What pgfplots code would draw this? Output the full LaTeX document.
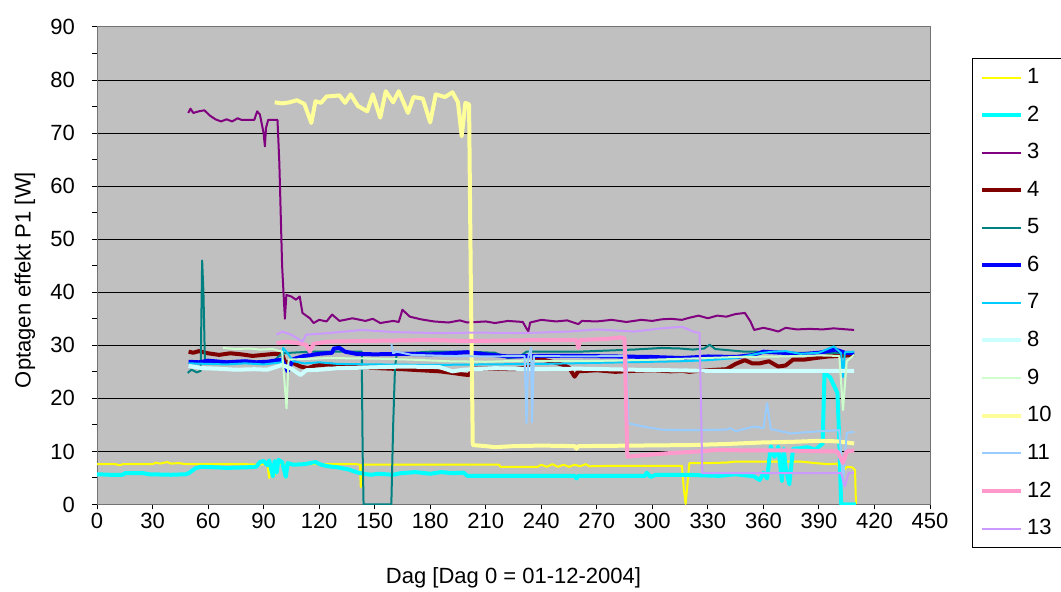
\documentclass[border=0pt]{standalone}
\usepackage{fontspec}
\setmainfont{Liberation Sans}
\usepackage{pgfplots}
\pgfplotsset{compat=1.18}
\definecolor{c1}{RGB}{255,255,0}
\definecolor{c2}{RGB}{0,255,255}
\definecolor{c3}{RGB}{128,0,128}
\definecolor{c4}{RGB}{128,0,0}
\definecolor{c5}{RGB}{0,128,128}
\definecolor{c6}{RGB}{0,0,255}
\definecolor{c7}{RGB}{0,204,255}
\definecolor{c8}{RGB}{204,255,255}
\definecolor{c9}{RGB}{204,255,204}
\definecolor{c10}{RGB}{255,255,153}
\definecolor{c11}{RGB}{153,204,255}
\definecolor{c12}{RGB}{255,153,204}
\definecolor{c13}{RGB}{204,153,255}
\definecolor{bggray}{RGB}{192,192,192}
\begin{document}
\begin{tikzpicture}[font=\fontsize{11}{13}\selectfont]
\path[use as bounding box] (0,0) rectangle (530.5pt,296pt);
\begin{axis}[
 at={(48.5pt,43.75pt)}, anchor=south west,
 scale only axis, width=416.5pt, height=238.75pt,
 xmin=0, xmax=450, ymin=0, ymax=90,
 xtick={0,30,...,450}, ytick={0,10,...,90}, minor y tick num=1,
 tick pos=left, tick align=outside,
 major tick length=2.5pt, minor tick length=2.5pt,
 tick style={black, line width=0.5pt},
 ymajorgrids, grid style={black, line width=0.5pt},
 axis background/.style={fill=bggray},
 axis line style={draw=black!55, line width=0.5pt},
 /pgf/number format/assume math mode=true,
 xticklabel style={yshift=1.5pt}, yticklabel style={xshift=-5pt},
 xlabel={Dag [Dag 0 = 01-12-2004]}, ylabel={Optagen effekt P1 [W]},
 xlabel style={at={(axis description cs:0.5,-0.154)}, anchor=center},
 ylabel style={at={(axis description cs:-0.0864,0.47)}, anchor=center},
 legend style={at={(axis description cs:1.0504,0.935)}, anchor=north west,
   draw=black, fill=white, line width=0.5pt, row sep=5.65pt,
   inner xsep=4pt, inner ysep=3pt, font=\fontsize{11}{13}\selectfont},
 legend cell align=left,
 legend image code/.code={\draw[#1] (0pt,0pt) -- (19.3pt,0pt);},
 every axis plot/.append style={line join=round},
]
% 1
\addplot[c1, line width=1pt] coordinates {(0,7.6) (10,7.6) (12,7.4) (14,7.6) (30,7.6) (32,7.9) (34,7.7) (38,8.0) (40,7.7) (44,7.8) (48,7.6) (60,7.6) (70,7.6) (80,7.6) (88,7.5) (92,7.7) (93,5.0) (94,7.6) (96,5.6) (97,7.6) (101,7.7) (102,5.0) (103,7.7) (110,7.6) (125,7.6) (140,7.6) (142,7.5) (142.5,3.3) (143,7.5) (150,7.5) (170,7.5) (200,7.5) (217,7.5) (218,7.1) (238,7.1) (240,7.5) (243,7.1) (246,7.6) (249,7.1) (252,7.5) (255,7.1) (258,7.5) (261,7.2) (264,7.6) (266,7.2) (280,7.3) (300,7.3) (316,7.3) (317,3) (318,0.1) (319,4) (320,7.8) (330,7.8) (340,7.9) (345,8.1) (360,8.1) (375,8.1) (380,8.1) (388,7.8) (395,7.6) (400,7.7) (401,7.0) (403,6.2) (405,7.1) (408,7.0) (409.5,6.5) (410,0.1)};
\addlegendentry{1}
% 2
\addplot[c2, line width=2pt] coordinates {(0,5.7) (7,5.6) (14,5.6) (15,5.9) (25,5.9) (28,5.7) (40,5.6) (48,5.7) (50,6.0) (53,6.8) (56,7.1) (65,7.0) (70,6.9) (80,7.0) (86,7.1) (88,8.0) (90,8.2) (92,7.4) (93,8.3) (95,5.3) (96,8.2) (97,6.0) (98,8.4) (100,8.0) (102,5.2) (103,7.8) (106,7.5) (112,7.6) (118,8.0) (121,7.5) (125,7.2) (130,7.0) (136,6.6) (140,6.1) (144,5.8) (148,5.6) (152,5.8) (160,5.6) (164,5.9) (172,6.1) (180,5.8) (186,6.1) (192,5.9) (198,6.0) (200,5.4) (230,5.4) (258,5.4) (259,4.9) (260,5.4) (296,5.4) (297,6.0) (299,5.2) (302,5.6) (320,5.6) (326,5.5) (336,5.4) (345,5.7) (355,5.3) (358,4.6) (360,6.0) (362,4.9) (364,11.0) (366,9.0) (368,10.9) (370,4.4) (371,10.5) (372,7.0) (374,3.8) (376,10.5) (380,10.6) (384,10.8) (388,10.3) (392,11.5) (393,24.8) (396,24.0) (398,22.5) (400,21.0) (401,12) (402,0) (410,0)};
\addlegendentry{2}
% 3
\addplot[c3, line width=1pt] coordinates {(49.3,73.8) (50.5,74.6) (52,73.8) (55,74.1) (58,74.3) (61,73.3) (64,72.6) (67,72.2) (70,72.6) (73,72.2) (76,72.8) (78,72.5) (85,72.5) (86.5,74.1) (88,73.5) (90,70) (90.7,67.5) (91.3,71) (92.5,72.5) (97.5,72.5) (98.5,64.4) (100,45) (101.5,35) (102.3,39.5) (105,39.2) (107.5,38.6) (109.5,39.2) (111,36.1) (115,35.1) (117,34.2) (120,34.8) (124,34.5) (127,35.8) (131,34.6) (138,35.1) (145,34.6) (149,35) (153,34.2) (160,34.6) (163,34.4) (165,36.7) (169,35.4) (175,34.9) (182,34.5) (190,34.3) (196,34.7) (200,34.3) (210,34.5) (215,34.2) (222,34.6) (230,34.4) (232,33.2) (233,32.6) (234,34.3) (240,34.8) (248,34.5) (254,34.7) (260,34.0) (262,34.6) (270,34.5) (278,34.8) (286,34.4) (294,34.8) (300,34.6) (305,34.9) (310,35.0) (316,34.8) (320,35.2) (325,35.6) (330,35.1) (335,35.6) (340,35.4) (345,35.9) (350,36.1) (353,34.5) (355,32.9) (360,33.3) (364,33.0) (368,32.6) (372,33.3) (378,33.0) (385,33.1) (392,33.0) (398,33.2) (405,33.0) (409,32.9)};
\addlegendentry{3}
% 4
\addplot[c4, line width=2pt] coordinates {(49.5,28.8) (52,28.6) (55,28.9) (60,28.5) (66,28.2) (72,28.5) (78,28.3) (84,28.0) (90,28.2) (96,28.4) (100,28.3) (101.5,26.9) (105,26.8) (110,26.0) (114,25.7) (118,26.2) (125,26.4) (131,26.1) (138,25.9) (145,25.8) (152,25.7) (165,25.5) (175,25.3) (185,25.1) (192,24.8) (198,24.5) (201,24.4) (203,25.6) (215,25.6) (225,25.5) (232,25.8) (236,27.6) (245,27.0) (252,26.3) (255,25.8) (258,24.1) (260,25.1) (270,25.3) (280,25.0) (290,25.2) (300,25.3) (310,25.1) (316,25.2) (320,25.0) (325,25.2) (340,25.5) (345,26.5) (350,27.2) (354,26.6) (358,26.6) (363,27.0) (368,26.0) (372,26.2) (376,27.3) (382,27.3) (388,27.6) (395,27.9) (402,28.0) (409,28.2)};
\addlegendentry{4}
% 5
\addplot[c5, line width=1pt] coordinates {(49,24.8) (51,25.4) (54,24.9) (56,25.2) (56.8,46) (57.5,40) (58.3,26.9) (60,26.8) (70,26.9) (80,26.9) (95,26.9) (100,28.5) (105,28.6) (115,28.8) (130,28.8) (143,28.8) (143.5,10) (144,0) (159,0) (160,15) (161,26.0) (162,28.5) (170,28.6) (180,28.8) (200,28.8) (215,28.6) (222,27.6) (228,27.8) (232,28.8) (260,28.8) (290,29.2) (300,29.4) (305,29.5) (315,29.4) (322,29.2) (328,29.4) (331,30.1) (334,29.3) (350,28.8) (356,28.8) (370,28.6) (390,28.6) (409,28.6)};
\addlegendentry{5}
% 6
\addplot[c6, line width=2pt] coordinates {(49.5,26.9) (55,26.8) (60,27.1) (70,26.8) (80,27.0) (86,26.8) (92,26.9) (100,27.3) (103,25.1) (106,27.4) (112,28.0) (120,28.4) (127,28.6) (128,29.4) (131,29.5) (134,28.8) (140,28.4) (150,28.3) (165,28.4) (180,28.3) (190,28.5) (200,28.7) (210,28.3) (222,27.9) (240,28.0) (260,28.0) (280,27.9) (300,27.8) (316,27.6) (330,27.9) (345,27.8) (355,28.2) (360,28.8) (370,28.6) (380,28.3) (390,28.6) (399,29.2) (404,28.6) (409,28.5)};
\addlegendentry{6}
% 7
\addplot[c7, line width=1pt] coordinates {(49.5,26.6) (60,26.5) (70,26.4) (80,26.6) (90,26.4) (100,26.8) (100.5,29.5) (103,28.5) (106,27.0) (112,26.6) (120,26.8) (130,26.5) (150,26.4) (180,26.3) (210,26.4) (240,26.5) (270,26.7) (300,26.9) (316,27.0) (330,27.2) (345,27.6) (358,28.5) (365,28.8) (372,28.9) (380,28.4) (390,28.6) (398,29.8) (402,28.5) (403,24) (404,28.7) (409,28.8)};
\addlegendentry{7}
% 8
\addplot[c8, line width=2pt] coordinates {(49.5,26.1) (57,25.7) (65,25.6) (75,25.4) (85,25.5) (92,25.4) (100,26.3) (105,25.6) (110,24.4) (113,25.3) (120,25.4) (130,25.7) (145,25.8) (165,26.0) (185,25.9) (192,25.1) (198,25.4) (215,25.7) (235,25.5) (260,25.6) (290,25.4) (310,25.3) (330,25.2) (350,25.2) (370,25.2) (390,25.2) (409,25.2)};
\addlegendentry{8}
% 9
\addplot[c9, line width=1pt] coordinates {(68,29.5) (75,29.3) (82,29.4) (88,29.2) (95,29.3) (100,28.8) (102.4,18.1) (103.5,27.3) (110,27.4) (125,27.6) (150,27.5) (170,27.3) (190,27.0) (210,26.9) (230,27.1) (260,27.0) (290,27.2) (320,27.5) (345,27.8) (370,27.9) (390,28.1) (401,28.0) (403,17.8) (405,27.0) (409,28.2)};
\addlegendentry{9}
% 10
\addplot[c10, line width=2pt] coordinates {(96,75.8) (100,75.6) (104,75.8) (108,76.2) (112,75.5) (115.8,71.9) (118,76.0) (121,75.7) (124,76.9) (128,77.0) (131,77.1) (134,75.7) (137,77.3) (141,75.1) (146,74.1) (149,77.3) (153,72.9) (156,77.9) (160,75.8) (163,77.9) (168,73.8) (171,76.8) (176,76.5) (180,72.0) (183,77.3) (188,76.8) (192,77.7) (195,75.8) (197,69.4) (199,75.7) (201,75.4) (202,40) (203,11.2) (210,11.0) (215,10.8) (225,11.0) (240,11.1) (258,11.0) (259,10.5) (260,11.0) (290,11.1) (320,11.2) (340,11.4) (360,11.7) (375,11.8) (390,12.0) (400,11.9) (409,11.5)};
\addlegendentry{10}
% 11
\addplot[c11, line width=1pt] coordinates {(159,30.3) (160,28.5) (162,28.8) (170,28.2) (190,28.0) (210,27.9) (231,28.0) (232,15.3) (233,27.9) (234.5,29.5) (235,15.5) (236,28.0) (260,27.9) (286,28.0) (287,15.3) (295,14.7) (305,14.1) (320,14.0) (340,14.1) (342,14.4) (345,13.8) (355,14.7) (360,14.4) (362,19.1) (364,14.2) (375,13.4) (390,13.8) (401,14.0) (403,4) (405,13.5) (409,13.7)};
\addlegendentry{11}
% 12
\addplot[c12, line width=2pt] coordinates {(97,30.4) (102,30.7) (107,30.5) (113,30.1) (115,28.8) (117,30.3) (125,30.7) (140,30.8) (160,30.9) (180,31.0) (200,30.8) (220,30.9) (240,31.0) (259,31.0) (260,29.5) (261,31.0) (275,31.2) (283,31.5) (285,31.3) (286.5,9.0) (295,9.3) (310,9.7) (325,10.0) (335,10.3) (350,10.2) (370,10.2) (395,10.0) (400,10.0) (403,7.8) (405,10.0) (409,10.2)};
\addlegendentry{12}
% 13
\addplot[c13, line width=1pt] coordinates {(97,32.0) (100,32.6) (105,32.0) (111,30.7) (113,32.0) (125,32.3) (143,32.9) (160,32.5) (185,32.3) (205,32.4) (230,32.3) (255,32.6) (270,33.0) (290,32.6) (305,33.2) (316,33.5) (322,32.6) (325.5,32.3) (327,5.9) (340,5.9) (360,5.9) (385,5.9) (402,5.9) (404,3.4) (406,5.9) (409,6.0)};
\addlegendentry{13}
\end{axis}
\end{tikzpicture}
\end{document}
